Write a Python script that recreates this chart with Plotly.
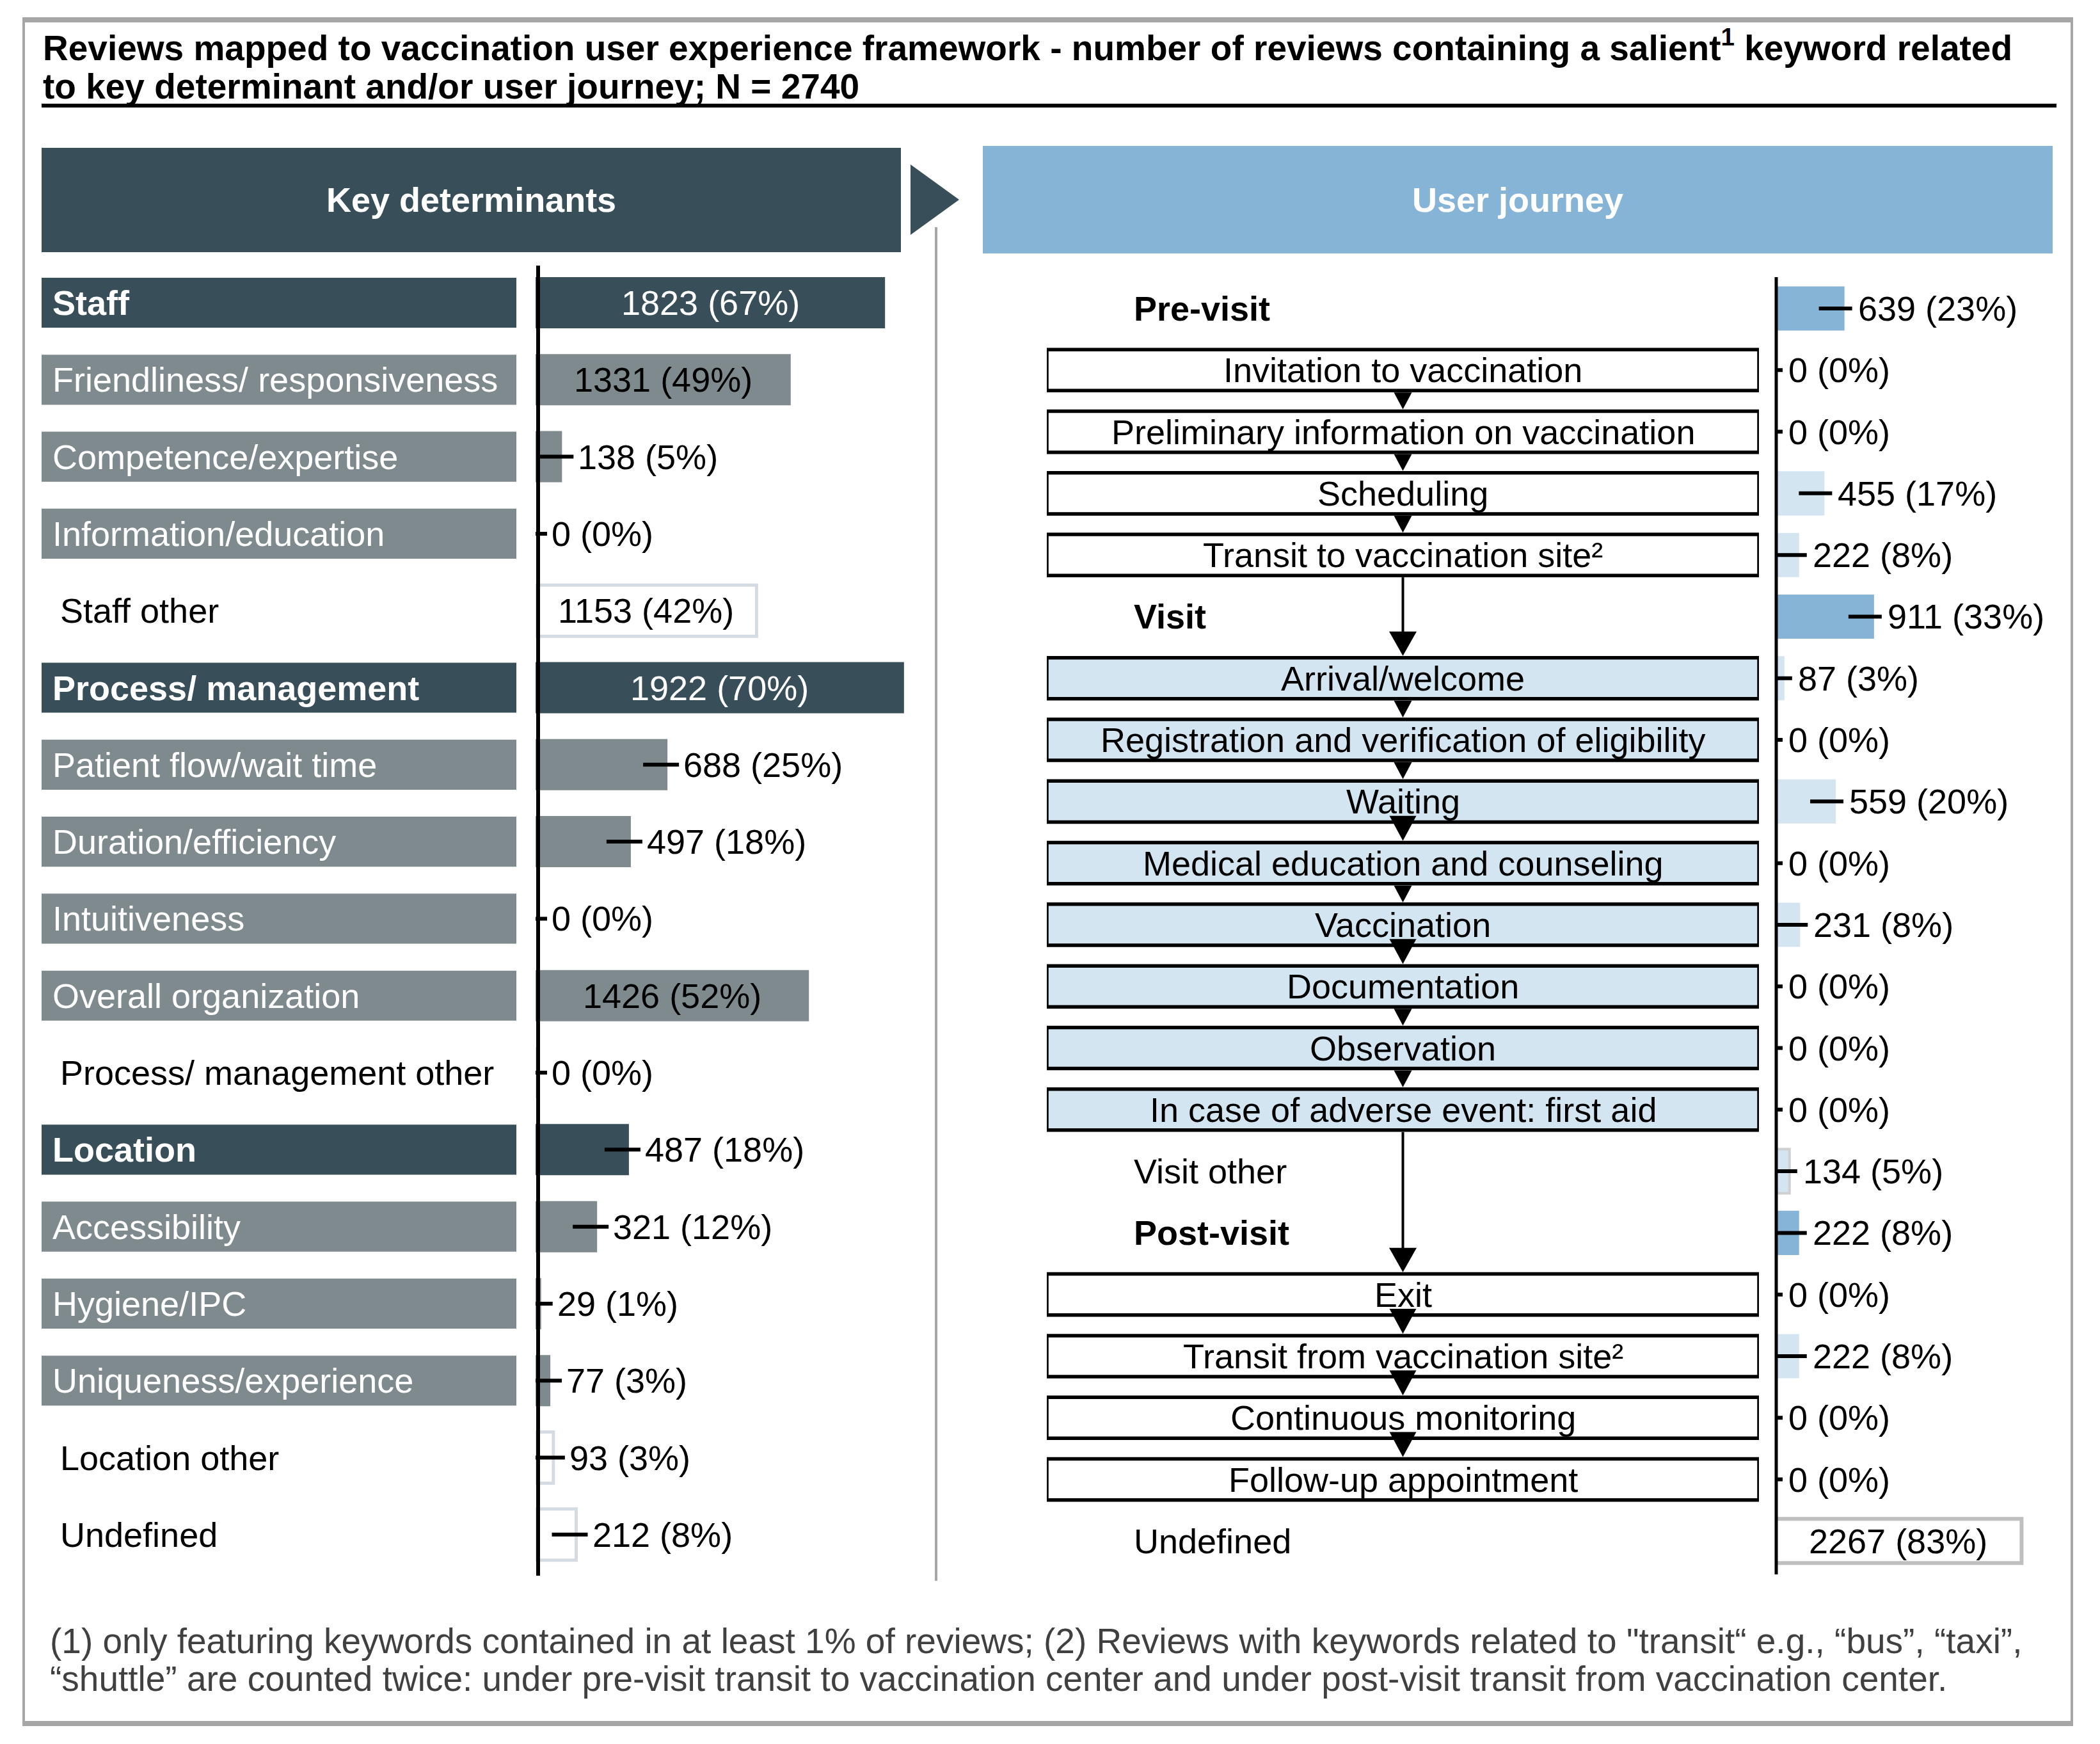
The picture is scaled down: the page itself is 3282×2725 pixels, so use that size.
import plotly.graph_objects as go

W, H = 3282, 2725
FONT = "Arial, Liberation Sans, Helvetica, sans-serif"

# ---------------- data ----------------
title_line1 = ("Reviews mapped to vaccination user experience framework - number of reviews "
               "containing a salient<sup>1</sup> keyword related")
title_line2 = "to key determinant and/or user journey; N = 2740"
header_left = "Key determinants"
header_right = "User journey"
footnote_line1 = ('(1) only featuring keywords contained in at least 1% of reviews; (2) Reviews with keywords '
                  'related to "transit\u201c e.g., \u201cbus\u201d, \u201ctaxi\u201d,')
footnote_line2 = ("\u201cshuttle\u201d are counted twice: under pre-visit transit to vaccination center and "
                  "under post-visit transit from vaccination center.")

left_categories = ["Staff", "Friendliness/ responsiveness", "Competence/expertise", "Information/education",
                   "Staff other", "Process/ management", "Patient flow/wait time", "Duration/efficiency",
                   "Intuitiveness", "Overall organization", "Process/ management other", "Location",
                   "Accessibility", "Hygiene/IPC", "Uniqueness/experience", "Location other", "Undefined"]
left_values = [1823, 1331, 138, 0, 1153, 1922, 688, 497, 0, 1426, 0, 487, 321, 29, 77, 93, 212]
left_pct = [67, 49, 5, 0, 42, 70, 25, 18, 0, 52, 0, 18, 12, 1, 3, 3, 8]
left_levels = ["main", "sub", "sub", "sub", "other", "main", "sub", "sub", "sub", "sub", "other",
               "main", "sub", "sub", "sub", "other", "other"]

right_categories = ["Pre-visit", "Invitation to vaccination", "Preliminary information on vaccination",
                    "Scheduling", "Transit to vaccination site\u00b2", "Visit", "Arrival/welcome",
                    "Registration and verification of eligibility", "Waiting",
                    "Medical education and counseling", "Vaccination", "Documentation", "Observation",
                    "In case of adverse event: first aid", "Visit other", "Post-visit", "Exit",
                    "Transit from vaccination site\u00b2", "Continuous monitoring", "Follow-up appointment",
                    "Undefined"]
right_values = [639, 0, 0, 455, 222, 911, 87, 0, 559, 0, 231, 0, 0, 0, 134, 222, 0, 222, 0, 0, 2267]
right_pct = [23, 0, 0, 17, 8, 33, 3, 0, 20, 0, 8, 0, 0, 0, 5, 8, 0, 8, 0, 0, 83]
right_levels = ["phase", "pre", "pre", "pre", "pre", "phase", "visit", "visit", "visit", "visit", "visit",
                "visit", "visit", "visit", "other", "phase", "post", "post", "post", "post", "undefined"]

# flow connections between journey steps (from, to, arrow style)
flow_links = [
    ("Invitation to vaccination", "Preliminary information on vaccination", "small"),
    ("Preliminary information on vaccination", "Scheduling", "small"),
    ("Scheduling", "Transit to vaccination site\u00b2", "small"),
    ("Transit to vaccination site\u00b2", "Arrival/welcome", "long"),
    ("Arrival/welcome", "Registration and verification of eligibility", "small"),
    ("Registration and verification of eligibility", "Waiting", "small"),
    ("Waiting", "Medical education and counseling", "big"),
    ("Medical education and counseling", "Vaccination", "small"),
    ("Vaccination", "Documentation", "big"),
    ("Documentation", "Observation", "small"),
    ("Observation", "In case of adverse event: first aid", "small"),
    ("In case of adverse event: first aid", "Exit", "long"),
    ("Exit", "Transit from vaccination site\u00b2", "big"),
    ("Transit from vaccination site\u00b2", "Continuous monitoring", "big"),
    ("Continuous monitoring", "Follow-up appointment", "big"),
]

INSIDE_MIN = 1000  # values at/above this get their label inside the bar

# ---------------- style ----------------
DARK = "#384F59"
GRAY = "#7F8A8E"
OTHER_LINE = "#D5DBE3"
MID_BLUE = "#86B4D7"
LIGHT_BLUE = "#D4E5F2"
FRAME = "#A6A6A6"
FS = 54

# pixel layout
L_LAB = (65, 807)
L_VAL0, L_VAL1, L_SCALE = 837, 1440, 0.2996
L_ROW_TOP, L_ROW_BOT = 412.85, 2458
R_BOX = (1636, 2749)
R_VAL0, R_VAL1, R_SCALE = 2774, 3232, 0.170
R_ROW_TOP, R_ROW_BOT = 433.85, 2456
R_PITCH = (R_ROW_BOT - R_ROW_TOP) / len(right_categories)


def dom_x(a, b):
    return [a / W, b / W]


def dom_y(top, bot):
    return [1 - bot / H, 1 - top / H]


def X(p):
    return p / W


def Y(p):
    return 1 - p / H


fig = go.Figure()

# ---- left: label boxes ----
box_fill_l = {"main": DARK, "sub": GRAY, "other": "rgba(0,0,0,0)"}
fig.add_trace(go.Bar(
    orientation="h", x=[1] * len(left_categories), y=left_categories, xaxis="x2", yaxis="y",
    width=0.65, marker=dict(color=[box_fill_l[l] for l in left_levels], line=dict(width=0)),
    hoverinfo="skip", showlegend=False))

# ---- left: value bars ----
bar_fill_l = {"main": DARK, "sub": GRAY, "other": "white"}
fig.add_trace(go.Bar(
    orientation="h", x=left_values, y=left_categories, xaxis="x", yaxis="y", width=0.665,
    marker=dict(color=[bar_fill_l[l] for l in left_levels],
                line=dict(color=[OTHER_LINE if l == "other" else "rgba(0,0,0,0)" for l in left_levels],
                          width=[5 if l == "other" else 0 for l in left_levels])),
    error_x=dict(type="data", symmetric=False, color="black", thickness=6, width=0,
                 array=[0 if v >= INSIDE_MIN else 18 / L_SCALE for v in left_values],
                 arrayminus=[0 if v >= INSIDE_MIN else 38 / L_SCALE for v in left_values]),
    cliponaxis=True, hoverinfo="skip", showlegend=False))

# ---- right: journey step boxes ----
box_fill_r = {"pre": "white", "visit": LIGHT_BLUE, "post": "white"}
fig.add_trace(go.Bar(
    orientation="h", x=[1 if l in box_fill_r else None for l in right_levels], y=right_categories,
    xaxis="x4", yaxis="y2", width=0.666,
    marker=dict(color=[box_fill_r.get(l, "white") for l in right_levels],
                line=dict(color="black", width=5.5)),
    cliponaxis=False, hoverinfo="skip", showlegend=False))

# ---- right: value bars ----
bar_fill_r = {"phase": MID_BLUE, "pre": LIGHT_BLUE, "visit": LIGHT_BLUE, "post": LIGHT_BLUE,
              "other": LIGHT_BLUE, "undefined": "white"}
line_c_r = {"other": "#D0D0D0", "undefined": "#BFBFBF"}
line_w_r = {"other": 4, "undefined": 6}
fig.add_trace(go.Bar(
    orientation="h", x=right_values, y=right_categories, xaxis="x3", yaxis="y2", width=0.717,
    marker=dict(color=[bar_fill_r[l] for l in right_levels],
                line=dict(color=[line_c_r.get(l, "rgba(0,0,0,0)") for l in right_levels],
                          width=[line_w_r.get(l, 0) for l in right_levels])),
    error_x=dict(type="data", symmetric=False, color="black", thickness=6, width=0,
                 array=[0 if v >= INSIDE_MIN else 12 / R_SCALE for v in right_values],
                 arrayminus=[0 if v >= INSIDE_MIN else 40 / R_SCALE for v in right_values]),
    cliponaxis=True, hoverinfo="skip", showlegend=False))

ann = []
# title
ann.append(dict(text=f"<b>{title_line1}</b>", x=X(65), y=Y(71), xref="paper", yref="paper",
                xanchor="left", yanchor="middle", showarrow=False,
                font=dict(family=FONT, size=55, color="black")))
ann.append(dict(text=f"<b>{title_line2}</b>", x=X(65), y=Y(135), xref="paper", yref="paper",
                xanchor="left", yanchor="middle", showarrow=False,
                font=dict(family=FONT, size=55, color="black")))
# headers
ann.append(dict(text=f"<b>{header_left}</b>", x=X((65 + 1408) / 2), y=Y(312), xref="paper", yref="paper",
                xanchor="center", yanchor="middle", showarrow=False,
                font=dict(family=FONT, size=FS, color="white")))
ann.append(dict(text=f"<b>{header_right}</b>", x=X((1536 + 3208) / 2), y=Y(312), xref="paper",
                yref="paper", xanchor="center", yanchor="middle", showarrow=False,
                font=dict(family=FONT, size=FS, color="white")))
# footnotes
for txt, yy in [(footnote_line1, 2564), (footnote_line2, 2623)]:
    ann.append(dict(text=txt, x=X(76), y=Y(yy), xref="paper", yref="paper", xanchor="left",
                    yanchor="middle", showarrow=False, font=dict(family=FONT, size=55, color="#404040")))

# left labels
for cat, lev in zip(left_categories, left_levels):
    ann.append(dict(text=f"<b>{cat}</b>" if lev == "main" else cat,
                    x=0.0202 if lev != "other" else 0.0365, xref="x2", y=cat, yref="y",
                    xanchor="left", yanchor="middle", showarrow=False,
                    font=dict(family=FONT, size=FS, color="black" if lev == "other" else "white")))
# left values
for cat, v, p, lev in zip(left_categories, left_values, left_pct, left_levels):
    if v >= INSIDE_MIN:
        ann.append(dict(text=f"{v} ({p}%)", x=v / 2, xref="x", y=cat, yref="y", xanchor="center",
                        yanchor="middle", showarrow=False,
                        font=dict(family=FONT, size=FS, color="white" if lev == "main" else "black")))
    else:
        ann.append(dict(text=f"{v} ({p}%)", x=v, xref="x", y=cat, yref="y", xanchor="left",
                        yanchor="middle", xshift=23, showarrow=False,
                        font=dict(family=FONT, size=FS, color="black")))
# right labels
for cat, lev in zip(right_categories, right_levels):
    if lev in box_fill_r:
        ann.append(dict(text=cat, x=0.5, xref="x4", y=cat, yref="y2", xanchor="center",
                        yanchor="middle", showarrow=False, font=dict(family=FONT, size=FS, color="black")))
    else:
        ann.append(dict(text=f"<b>{cat}</b>" if lev == "phase" else cat, x=0.1204, xref="x4", y=cat,
                        yref="y2", xanchor="left", yanchor="middle", showarrow=False,
                        font=dict(family=FONT, size=FS, color="black")))
# right values
for cat, v, p in zip(right_categories, right_values, right_pct):
    if v >= INSIDE_MIN:
        ann.append(dict(text=f"{v} ({p}%)", x=v / 2, xref="x3", y=cat, yref="y2", xanchor="center",
                        yanchor="middle", showarrow=False, font=dict(family=FONT, size=FS, color="black")))
    else:
        ann.append(dict(text=f"{v} ({p}%)", x=v, xref="x3", y=cat, yref="y2", xanchor="left",
                        yanchor="middle", xshift=19, showarrow=False,
                        font=dict(family=FONT, size=FS, color="black")))

shapes = []
# outer frame
shapes.append(dict(type="rect", xref="paper", yref="paper", x0=X(37), x1=X(3238), y0=Y(31), y1=Y(2693),
                   line=dict(color=FRAME, width=4), layer="below"))
shapes.append(dict(type="rect", xref="paper", yref="paper", x0=X(35), x1=X(3240), y0=Y(27), y1=Y(35),
                   fillcolor=FRAME, line=dict(width=0), layer="below"))
shapes.append(dict(type="rect", xref="paper", yref="paper", x0=X(35), x1=X(3240), y0=Y(2689), y1=Y(2697),
                   fillcolor=FRAME, line=dict(width=0), layer="below"))
# title underline
shapes.append(dict(type="line", xref="paper", yref="paper", x0=X(65), x1=X(3214), y0=Y(165), y1=Y(165),
                   line=dict(color="black", width=6)))
# headers
shapes.append(dict(type="rect", xref="paper", yref="paper", x0=X(65), x1=X(1408), y0=Y(231), y1=Y(394),
                   fillcolor=DARK, line=dict(width=0), layer="below"))
shapes.append(dict(type="path", xref="paper", yref="paper",
                   path=f"M {X(1423)},{Y(257)} L {X(1499)},{Y(312)} L {X(1423)},{Y(367)} Z",
                   fillcolor=DARK, line=dict(width=0), layer="below"))
shapes.append(dict(type="rect", xref="paper", yref="paper", x0=X(1536), x1=X(3208), y0=Y(228), y1=Y(396),
                   fillcolor=MID_BLUE, line=dict(width=0), layer="below"))
# separator
shapes.append(dict(type="line", xref="paper", yref="paper", x0=X(1463), x1=X(1463), y0=Y(355), y1=Y(2470),
                   line=dict(color=FRAME, width=4)))
# value axis lines
shapes.append(dict(type="line", xref="paper", yref="paper", x0=X(841), x1=X(841), y0=Y(415), y1=Y(2462),
                   line=dict(color="black", width=6)))
shapes.append(dict(type="line", xref="paper", yref="paper", x0=X(2776), x1=X(2776), y0=Y(433),
                   y1=Y(2460), line=dict(color="black", width=5)))

# flow arrows
box_w_px = R_BOX[1] - R_BOX[0]
BOX_HALF = 35 / R_PITCH
arrow_sizes = {"small": (28, None), "big": (42, 39), "long": (43, 38)}
for a, b, kind in flow_links:
    i, j = right_categories.index(a), right_categories.index(b)
    wpx, hpx = arrow_sizes[kind]
    hw = wpx / 2 / box_w_px
    apex = j - BOX_HALF
    top = i + BOX_HALF if hpx is None else apex - hpx / R_PITCH
    if kind == "long":
        shapes.append(dict(type="line", xref="x4", yref="y2", x0=0.5, x1=0.5, y0=i + BOX_HALF,
                           y1=top + 0.05, line=dict(color="black", width=4)))
    shapes.append(dict(type="path", xref="x4", yref="y2",
                       path=f"M {0.5 - hw},{top} L {0.5 + hw},{top} L 0.5,{apex} Z",
                       fillcolor="black", line=dict(width=0)))

fig.update_layout(
    width=W, height=H, margin=dict(l=0, r=0, t=0, b=0), autosize=False,
    paper_bgcolor="white", plot_bgcolor="rgba(0,0,0,0)", showlegend=False, hovermode=False,
    font=dict(family=FONT, size=FS, color="black"),
    barmode="overlay",
    xaxis=dict(domain=dom_x(L_VAL0, L_VAL1), range=[0, (L_VAL1 - L_VAL0) / L_SCALE], visible=False,
               anchor="y", fixedrange=True),
    yaxis=dict(domain=dom_y(L_ROW_TOP, L_ROW_BOT), type="category", categoryorder="array",
               categoryarray=left_categories, range=[len(left_categories) - 0.5, -0.5], visible=False,
               anchor="x", fixedrange=True),
    xaxis2=dict(domain=dom_x(*L_LAB), range=[0, 1], visible=False, anchor="y", fixedrange=True),
    xaxis3=dict(domain=dom_x(R_VAL0, R_VAL1), range=[0, (R_VAL1 - R_VAL0) / R_SCALE], visible=False,
                anchor="y2", fixedrange=True),
    yaxis2=dict(domain=dom_y(R_ROW_TOP, R_ROW_BOT), type="category", categoryorder="array",
                categoryarray=right_categories, range=[len(right_categories) - 0.5, -0.5], visible=False,
                anchor="x3", fixedrange=True),
    xaxis4=dict(domain=dom_x(*R_BOX), range=[0, 1], visible=False, anchor="y2", fixedrange=True),
    annotations=ann, shapes=shapes,
)

fig.write_html("out.html", config={"displayModeBar": False},
               post_script="document.body.style.margin='0';")
